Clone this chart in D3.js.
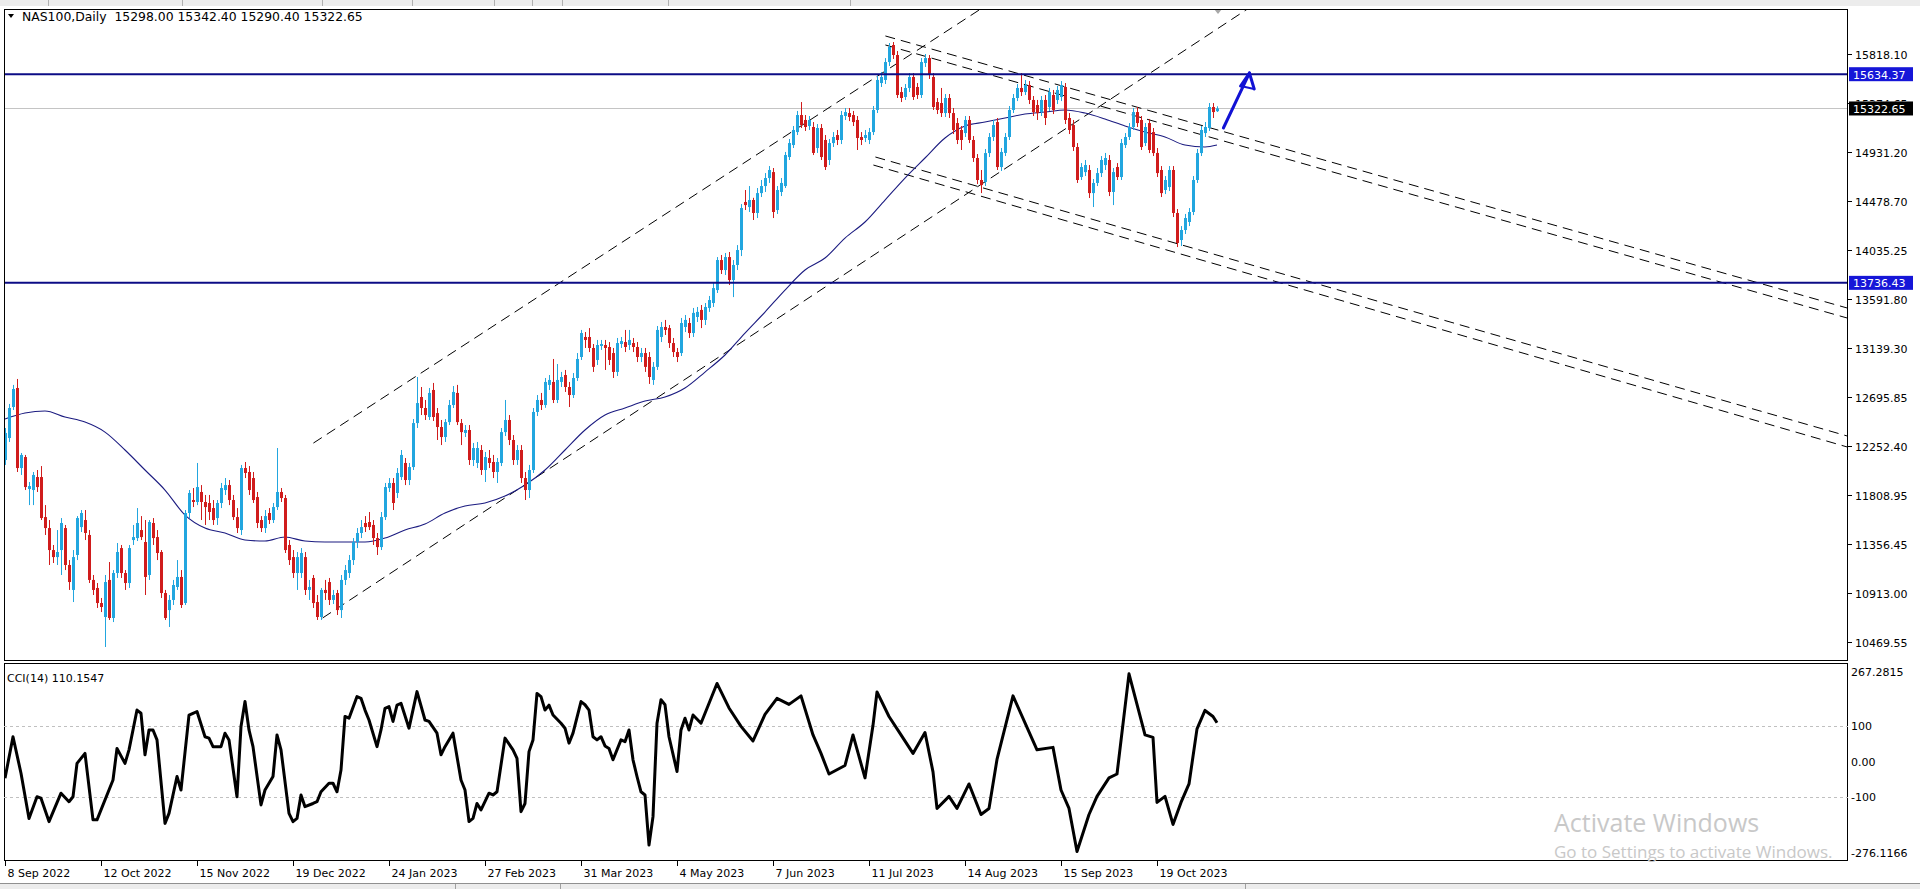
<!DOCTYPE html>
<html><head><meta charset="utf-8">
<script src="https://cdn.jsdelivr.net/npm/d3@7"></script>
<style>body{margin:0;background:#fff;overflow:hidden}svg{display:block}text{font-family:"DejaVu Sans","Liberation Sans",sans-serif}</style>
</head><body>
<svg id="c" width="1920" height="889"></svg>
<script>
// ---------- DATA ----------
const symbolTitle = "NAS100,Daily  15298.00 15342.40 15290.40 15322.65";
const openP = [12125,12325,12607,12780,12052,12152,11861,11852,11970,11970,11606,11506,11306,11242,11306,11506,11170,10943,11261,11515,11579,11443,11034,10961,10824,10697,11034,10688,11097,11324,11097,11006,11397,11415,11488,11379,11079,11552,11424,11288,10915,10760,10852,10970,11061,10824,11643,11761,11743,11834,11743,11734,11688,11597,11734,11852,11897,11761,11606,11488,12052,12016,11961,11788,11579,11506,11643,11579,11697,11834,11779,11352,11242,11097,11097,11242,10943,11052,10833,10697,10943,11015,10852,10915,10760,11034,11097,11215,11379,11461,11552,11561,11534,11415,11333,11606,11870,11916,11825,11970,12098,11943,12061,12461,12698,12598,12516,12762,12552,12425,12334,12470,12625,12735,12461,12371,12398,12125,12098,12216,12034,12143,12107,12016,12098,12379,12489,12307,12125,12216,11961,11852,12034,12562,12671,12625,12808,12835,12671,12835,12898,12789,12716,12871,13062,13244,13244,13144,13035,13162,13171,13153,13098,12926,13180,13198,13171,13189,13153,13062,13098,13062,12853,12972,13244,13335,13325,13189,13107,13098,13335,13371,13280,13426,13490,13399,13508,13553,13671,13944,13853,13971,13762,13899,14035,14472,14426,14490,14372,14553,14617,14690,14744,14399,14563,14617,14881,14990,15108,15263,15218,15163,15154,14963,15145,15036,14854,15008,15081,15036,15254,15281,15263,15218,15063,15054,15036,15108,15309,15554,15582,15745,15900,15809,15472,15427,15509,15609,15518,15445,15736,15781,15609,15381,15372,15281,15418,15281,15190,15127,15099,15218,15036,14872,14672,14654,14917,15063,15199,14790,14918,15063,15309,15418,15509,15472,15536,15400,15354,15290,15400,15336,15445,15400,15427,15518,15236,15172,14972,14699,14744,14763,14553,14645,14735,14808,14854,14563,14790,14699,14990,15063,15154,15290,15218,15008,15190,15108,14918,14763,14581,14608,14763,14372,14126,14217,14290,14381,14672,14917,15099,15145,15336,15298];
const highP = [12416,12635,12808,12862,12189,12171,11925,12016,12034,12070,11715,11579,11352,11488,11597,11534,11215,11306,11615,11670,11670,11488,11079,11006,10870,11079,11197,11124,11370,11352,11124,11352,11534,11688,11615,11579,11579,11597,11488,11306,10943,10897,11034,11215,11124,11670,11852,11870,12098,11897,11807,11807,11761,11761,11916,11961,11943,11807,11688,12080,12107,12070,12016,11834,11615,11670,11688,11734,12234,11870,11807,11397,11306,11288,11324,11288,11034,11079,10897,10961,11034,11052,10943,10943,11079,11170,11261,11415,11506,11579,11615,11652,11579,11461,11652,11916,11961,11961,12052,12216,12143,12098,12498,12880,12789,12671,12780,12826,12598,12489,12498,12671,12798,12808,12498,12443,12443,12280,12289,12261,12198,12216,12171,12143,12416,12671,12534,12352,12261,12261,12016,12080,12598,12716,12735,12871,12898,13044,12998,12926,12944,12835,12916,13098,13308,13289,13325,13180,13217,13217,13217,13198,13144,13235,13244,13308,13308,13235,13198,13144,13144,13107,13016,13344,13380,13399,13353,13235,13144,13417,13444,13417,13508,13517,13535,13553,13617,13735,13971,13990,14008,14017,13944,14080,14453,14581,14617,14510,14599,14672,14735,14799,14781,14617,14690,14927,15045,15163,15300,15381,15263,15254,15199,15181,15181,15081,15045,15108,15127,15300,15327,15327,15300,15254,15108,15127,15145,15345,15618,15654,15781,15918,15927,15845,15518,15545,15645,15645,15554,15781,15818,15809,15645,15418,15509,15454,15454,15327,15236,15163,15254,15254,15072,14908,14763,14954,15099,15218,15236,14963,15099,15345,15454,15545,15645,15582,15572,15436,15400,15436,15445,15509,15491,15527,15572,15554,15281,15218,15008,14826,14854,14808,14681,14781,14890,14918,14899,14781,14826,15045,15099,15190,15327,15336,15254,15190,15227,15145,14963,14799,14708,14799,14799,14408,14253,14363,14417,14708,14954,15163,15199,15372,15372,15342.4];
const lowP = [12080,12289,12580,12016,11989,11852,11715,11715,11834,11579,11443,11170,11188,11170,11079,11124,10943,10833,11215,11470,11397,11006,10897,10779,10742,10424,10670,10651,11052,11052,10943,10961,11352,11388,11397,10897,11034,11352,11215,10870,10670,10606,10806,10943,10779,10806,11597,11697,11715,11579,11534,11579,11534,11534,11688,11807,11715,11579,11461,11443,11961,11807,11734,11506,11470,11461,11543,11552,11670,11743,11279,11170,11052,10943,11052,10897,10852,10779,10670,10670,10852,10806,10815,10715,10688,10988,11052,11170,11324,11415,11470,11488,11352,11261,11306,11579,11834,11670,11779,11943,11897,11897,12034,12416,12534,12489,12489,12480,12307,12261,12289,12443,12598,12443,12261,12334,12080,12070,12052,11989,11925,12052,11961,11916,12070,12343,12261,12080,12080,11916,11761,11779,12007,12525,12580,12600,12762,12643,12643,12789,12744,12607,12689,12844,13035,13144,13107,12926,12989,13126,12944,12989,12871,12889,13144,13107,13126,13107,13016,13016,12926,12817,12808,12944,13198,13262,13144,13062,13016,13071,13289,13235,13244,13380,13325,13353,13472,13517,13644,13817,13808,13717,13607,13853,13980,14399,14381,14308,14326,14517,14563,14645,14326,14363,14526,14599,14854,14963,15081,15145,15118,15127,14899,14918,14854,14763,14808,14972,14990,14999,15218,15208,15163,14945,14990,15017,14999,15081,15281,15518,15545,15709,15773,15418,15381,15400,15472,15400,15409,15418,15700,15591,15309,15272,15245,15245,15236,15090,14999,14945,15063,15008,14836,14635,14553,14617,14881,15027,14763,14754,14890,15036,15281,15390,15436,15445,15363,15254,15218,15254,15172,15300,15272,15363,15390,15181,15090,14936,14645,14672,14708,14508,14426,14617,14699,14763,14526,14444,14672,14672,14963,15036,15127,15154,14945,14981,14917,14890,14699,14517,14544,14572,14335,14062,14071,14181,14253,14353,14645,14890,15063,15118,15236,15290.4];
const closeP = [12371,12598,12771,12052,12171,11879,11888,11989,11879,11597,11506,11306,11242,11288,11552,11170,11015,11242,11597,11643,11461,11034,10943,10824,10788,11015,10688,11097,11288,11097,11006,11324,11424,11552,11424,11061,11561,11415,11279,10915,10688,10852,10988,11061,10806,11643,11825,11743,11879,11743,11697,11652,11579,11734,11870,11897,11761,11606,11506,12052,12007,11852,11761,11552,11506,11615,11579,11697,11834,11779,11306,11215,11097,11242,11279,10943,10970,10824,10697,10943,10915,10852,10897,10760,11034,11124,11215,11379,11461,11515,11515,11515,11415,11333,11606,11879,11916,11734,12007,12171,11943,12061,12461,12643,12598,12534,12735,12516,12425,12334,12470,12625,12744,12470,12379,12398,12125,12234,12234,12034,12152,12098,12016,12107,12379,12489,12307,12125,12216,11961,11852,12034,12562,12671,12625,12835,12853,12671,12853,12880,12789,12716,12871,13044,13280,13217,13144,12972,13171,13180,13144,13035,12926,13189,13207,13153,13217,13153,13062,13098,12972,12880,12972,13308,13335,13308,13189,13107,13062,13371,13399,13280,13463,13472,13399,13517,13580,13689,13944,13853,13971,13762,13899,14035,14417,14444,14490,14372,14553,14617,14690,14763,14381,14581,14645,14899,15008,15127,15263,15172,15154,15218,14918,15145,14881,14790,15008,15063,15036,15263,15290,15245,15199,15054,15036,15081,15108,15309,15582,15609,15745,15882,15809,15445,15418,15509,15609,15427,15445,15745,15781,15627,15336,15309,15281,15418,15281,15127,15036,15036,15218,15036,14872,14672,14626,14917,15063,15172,14790,14927,15063,15309,15418,15509,15472,15536,15400,15290,15281,15400,15236,15472,15309,15491,15536,15218,15127,14972,14672,14790,14808,14553,14645,14735,14854,14872,14563,14744,14699,15008,15063,15154,15290,15190,14972,15154,14945,14917,14735,14553,14672,14763,14372,14099,14217,14326,14381,14672,14917,15127,15154,15336,15290,15322.65];

// moving average (read every 5 bars)
const maBars = [0,5,10,15,20,25,30,35,40,45,50,55,60,65,70,75,80,85,90,95,100,105,110,115,120,125,130,135,140,145,150,155,160,165,170,175,180,185,190,195,200,205,210,215,220,225,230,235,240,245,250,255,260,265,270,275,280,285,290,295,300,303];
const maValues = [12498,12552,12571,12516,12470,12379,12216,12034,11852,11624,11506,11461,11397,11388,11424,11388,11379,11379,11379,11415,11488,11543,11643,11706,11734,11797,11897,12034,12216,12398,12534,12598,12661,12698,12780,12925,13080,13280,13471,13671,13853,13962,14144,14290,14490,14690,14872,15054,15163,15199,15236,15272,15290,15309,15281,15227,15163,15108,15063,14990,14972,14990];

// CCI(14) turning points
const cciBars = [0,2,4,6,8,9,11,14,16,17,18,20,22,23,27,28,30,31,33,34,35,36,37,38,40,41,43,44,46,47,48,50,51,52,54,55,56,58,59,60,61,62,64,65,67,68,69,71,72,73,74,75,77,78,79,81,82,83,84,85,86,88,89,90,91,93,94,95,96,97,98,99,101,103,105,106,108,109,110,112,114,115,116,117,118,119,121,122,123,125,127,128,129,130,131,132,133,134,135,136,137,139,140,141,142,144,145,146,147,148,149,150,151,152,154,155,156,157,158,159,160,161,162,163,164,165,166,168,169,170,171,172,174,178,181,184,187,190,193,196,199,202,204,206,210,212,215,217,218,221,224,227,230,232,233,236,238,241,244,246,248,252,255,258,262,264,266,268,271,273,276,278,281,283,285,287,288,290,292,294,296,298,300,302,303];
const cciValues = [-46,71,-32,-159,-98,-102,-168,-88,-112,-98,-4,24,-163,-163,-51,38,-4,34,146,137,20,90,90,62,-173,-145,-41,-79,132,137,142,71,67,43,43,81,62,-98,100,170,90,43,-121,-79,-41,76,34,-145,-168,-159,-93,-126,-117,-112,-84,-60,-60,-84,-23,128,123,184,179,146,118,43,90,151,156,114,160,165,95,198,118,114,81,20,43,81,-51,-79,-168,-159,-117,-135,-88,-93,-84,67,34,10,-140,-117,29,62,193,184,146,160,132,109,95,53,81,170,161,146,71,62,71,45,38,6,62,57,90,6,-41,-84,-93,-234,-154,109,175,161,71,-27,90,123,90,132,109,221,152,100,59,134,179,162,186,76,24,-34,-10,76,-45,103,197,128,76,24,83,-28,-131,-97,-131,-62,-148,-131,7,186,110,34,41,-79,-131,-252,-148,-97,-45,-34,248,162,76,69,-114,-97,-176,-114,-62,93,145,128,110.15];
const cciTitle = "CCI(14) 110.1547";

// axes
const priceTicks = [15818.10,15374.65,14931.20,14478.70,14035.25,13591.80,13139.30,12695.85,12252.40,11808.95,11356.45,10913.00,10469.55];
const priceTickLabels = ["15818.10","15374.65","14931.20","14478.70","14035.25","13591.80","13139.30","12695.85","12252.40","11808.95","11356.45","10913.00","10469.55"];
const dateTickBars = [0,24,48,72,96,120,144,168,192,216,240,264,288];
const dateTickLabels = ["8 Sep 2022","12 Oct 2022","15 Nov 2022","19 Dec 2022","24 Jan 2023","27 Feb 2023","31 Mar 2023","4 May 2023","7 Jun 2023","11 Jul 2023","14 Aug 2023","15 Sep 2023","19 Oct 2023"];
const cciTickValues = [267.2815,100,0,-100,-276.1166];
const cciTickLabels = ["267.2815","100","0.00","-100","-276.1166"];
const cciLevels = [100,-100];

// horizontal levels and last price
const levelValues = [15634.37, 13736.43];
const levelLabels = ["15634.37","13736.43"];
const lastPrice = 15322.65;
const lastPriceLabel = "15322.65";

// trendlines (bar index, price)
const tlBar1 = [77.1, 79.4, 220.1, 220.1, 217.6, 217.1];
const tlPrice1 = [12279, 10688, 15982, 15900, 14881, 14808];
const tlBar2 = [243.9, 310.6, 460.6, 460.6, 460.6, 460.6];
const tlPrice2 = [16227, 16227, 13507, 13416, 12343, 12243];

// blue arrow (shaft, then head wings)
const arrowBars = [304.6, 311.1];
const arrowPrices = [15145, 15645];
const arrowWingBars = [308.9, 312.3];
const arrowWingPrices = [15527, 15500];

// ---------- DRAW ----------
const svg = d3.select('#c');
const Lx = 4, Rx = 1848, mainT = 9, mainB = 661, cciT = 663, cciB = 861;
const x = d3.scaleLinear().domain([0, 303]).range([5, 1217]);
const y = d3.scaleLinear().domain([10469.55, 15818.10]).range([642, 54]);
const yc = d3.scaleLinear().domain([-276.1166, 267.2815]).range([860, 667]);
const bull = "#22a6df", bear = "#d01c1c";
const FS = 11;

svg.append('rect').attr('width',1920).attr('height',889).attr('fill','#fff');
// top strip
svg.append('rect').attr('x',0).attr('y',0).attr('width',1920).attr('height',6).attr('fill','#ececec');
[48,182,322,412,494,532,562,668,850].forEach(v=>svg.append('line').attr('x1',v+.5).attr('x2',v+.5).attr('y1',0).attr('y2',6).attr('stroke','#b0b0b0'));
// bottom strip
svg.append('rect').attr('x',0).attr('y',883).attr('width',1920).attr('height',6).attr('fill','#ececec');
svg.append('line').attr('x1',0).attr('x2',1920).attr('y1',883.5).attr('y2',883.5).attr('stroke','#909090');
[455,560,1245].forEach(v=>svg.append('line').attr('x1',v+.5).attr('x2',v+.5).attr('y1',884).attr('y2',889).attr('stroke','#a0a0a0'));

const defs = svg.append('defs');
defs.append('clipPath').attr('id','cm').append('rect').attr('x',Lx).attr('y',mainT).attr('width',Rx-Lx).attr('height',mainB-mainT);
defs.append('clipPath').attr('id','cc').append('rect').attr('x',Lx).attr('y',cciT).attr('width',Rx-Lx).attr('height',cciB-cciT);
defs.append('clipPath').attr('id','ct').append('rect').attr('x',1849).attr('y',0).attr('width',70).attr('height',y(lastPrice)-7);

const gm = svg.append('g').attr('clip-path','url(#cm)');

// last price grey line
gm.append('line').attr('x1',Lx).attr('x2',Rx).attr('y1',Math.round(y(lastPrice))+.5).attr('y2',Math.round(y(lastPrice))+.5).attr('stroke','#c4c4c4').attr('stroke-width',1);

// trendlines
tlBar1.forEach((b,k)=>{
  gm.append('line').attr('x1',x(b)).attr('y1',y(tlPrice1[k])).attr('x2',x(tlBar2[k])).attr('y2',y(tlPrice2[k]))
    .attr('stroke','#000').attr('stroke-width',1).attr('stroke-dasharray','10,6');
});

// moving average
gm.append('path').datum(maBars.map((b,k)=>[b,maValues[k]]))
  .attr('d', d3.line().x(d=>x(d[0])).y(d=>y(d[1])).curve(d3.curveMonotoneX))
  .attr('fill','none').attr('stroke','#1b1b80').attr('stroke-width',1.1);

// candles
const idx = d3.range(closeP.length);
gm.selectAll('line.w').data(idx).join('line').attr('class','w')
  .attr('x1',i=>Math.round(x(i))+.5).attr('x2',i=>Math.round(x(i))+.5)
  .attr('y1',i=>y(highP[i])).attr('y2',i=>y(lowP[i]))
  .attr('stroke',i=>closeP[i]>=openP[i]?bull:bear).attr('stroke-width',1);
gm.selectAll('rect.b').data(idx).join('rect').attr('class','b')
  .attr('x',i=>Math.round(x(i))-1).attr('width',3)
  .attr('y',i=>y(Math.max(openP[i],closeP[i])))
  .attr('height',i=>Math.max(1,Math.abs(y(openP[i])-y(closeP[i]))))
  .attr('fill',i=>closeP[i]>=openP[i]?bull:bear);

// horizontal levels
levelValues.forEach(v=>{
  gm.append('line').attr('x1',Lx).attr('x2',Rx).attr('y1',y(v)).attr('y2',y(v)).attr('stroke','#0c0c86').attr('stroke-width',2);
});

// blue arrow
const ga = gm.append('g').attr('stroke','#1212d4').attr('stroke-width',3).attr('fill','none').attr('stroke-linecap','round');
ga.append('line').attr('x1',x(arrowBars[0])).attr('y1',y(arrowPrices[0])).attr('x2',x(arrowBars[1])).attr('y2',y(arrowPrices[1]));
arrowWingBars.forEach((b,k)=>ga.append('line').attr('x1',x(b)).attr('y1',y(arrowWingPrices[k])).attr('x2',x(arrowBars[1])).attr('y2',y(arrowPrices[1])));
ga.append('line').attr('x1',x(arrowWingBars[0])).attr('y1',y(arrowWingPrices[0])).attr('x2',x(arrowWingBars[1])).attr('y2',y(arrowWingPrices[1])).attr('stroke-width',2);

// shift marker
svg.append('path').attr('d','M1214,9 L1222,9 L1218,14 Z').attr('fill','#a8a8a8');

// frames
svg.append('rect').attr('x',Lx+.5).attr('y',mainT+.5).attr('width',Rx-Lx-1).attr('height',mainB-mainT-1).attr('fill','none').attr('stroke','#000');
svg.append('rect').attr('x',Lx+.5).attr('y',cciT+.5).attr('width',Rx-Lx-1).attr('height',cciB-cciT-1).attr('fill','none').attr('stroke','#000');

// title
svg.append('path').attr('d','M8,14 L14,14 L11,18 Z').attr('fill','#000');
svg.append('text').attr('x',22).attr('y',21).attr('font-size',12.4).attr('fill','#000').style('white-space','pre').text(symbolTitle);

// price axis
priceTicks.forEach((v,k)=>{
  const yy = Math.round(y(v))+.5;
  svg.append('line').attr('x1',Rx).attr('x2',Rx+4).attr('y1',yy).attr('y2',yy).attr('stroke','#000');
  const t = svg.append('text').attr('x',1855).attr('y',yy+4).attr('font-size',FS).attr('fill','#000').text(priceTickLabels[k]);
  // the tick that sits under the last-price box only shows above it
  if (Math.abs(y(v)-y(lastPrice)) < 12) t.attr('clip-path','url(#ct)');
});
levelValues.forEach((v,k)=>{
  const yy = y(v);
  svg.append('rect').attr('x',Rx+1).attr('y',yy-7).attr('width',64).attr('height',14).attr('fill','#1616d8');
  svg.append('text').attr('x',1853).attr('y',yy+4.5).attr('font-size',FS).attr('fill','#fff').text(levelLabels[k]);
});
{
  const yy = y(lastPrice);
  svg.append('rect').attr('x',Rx+1).attr('y',yy-7).attr('width',64).attr('height',14).attr('fill','#000');
  svg.append('text').attr('x',1853).attr('y',yy+4.5).attr('font-size',FS).attr('fill','#fff').text(lastPriceLabel);
}

// CCI pane
const gc = svg.append('g').attr('clip-path','url(#cc)');
cciLevels.forEach(v=>{
  gc.append('line').attr('x1',Lx).attr('x2',Rx).attr('y1',Math.round(yc(v))+.5).attr('y2',Math.round(yc(v))+.5)
    .attr('stroke','#c0c0c0').attr('stroke-dasharray','3,3');
});
gc.append('path').datum(cciBars.map((b,k)=>[b,cciValues[k]]))
  .attr('d', d3.line().x(d=>x(d[0])).y(d=>yc(d[1])))
  .attr('fill','none').attr('stroke','#000').attr('stroke-width',3).attr('stroke-linejoin','round');
svg.append('text').attr('x',7).attr('y',682).attr('font-size',FS).attr('fill','#000').text(cciTitle);
cciTickValues.forEach((v,k)=>{
  let yy = yc(v)+4;
  if (k===0) yy = 676; if (k===cciTickValues.length-1) yy = 857;
  svg.append('text').attr('x',1851).attr('y',yy).attr('font-size',FS).attr('fill','#000').text(cciTickLabels[k]);
});

// time axis
dateTickBars.forEach((b,k)=>{
  const xx = Math.round(x(b))+.5;
  svg.append('line').attr('x1',xx).attr('x2',xx).attr('y1',cciB).attr('y2',cciB+5).attr('stroke','#000');
  svg.append('text').attr('x',xx+2).attr('y',877).attr('font-size',FS).attr('fill','#000').text(dateTickLabels[k]);
});

// windows watermark
svg.append('text').attr('x',1554).attr('y',832).attr('font-size',25).attr('fill','#c8c8c8').style('font-family','"Open Sans","Noto Sans",sans-serif').text('Activate Windows');
svg.append('text').attr('x',1554).attr('y',858).attr('font-size',17).attr('fill','#c8c8c8').style('font-family','"Open Sans","Noto Sans",sans-serif').text('Go to Settings to activate Windows.');
</script>
</body></html>
